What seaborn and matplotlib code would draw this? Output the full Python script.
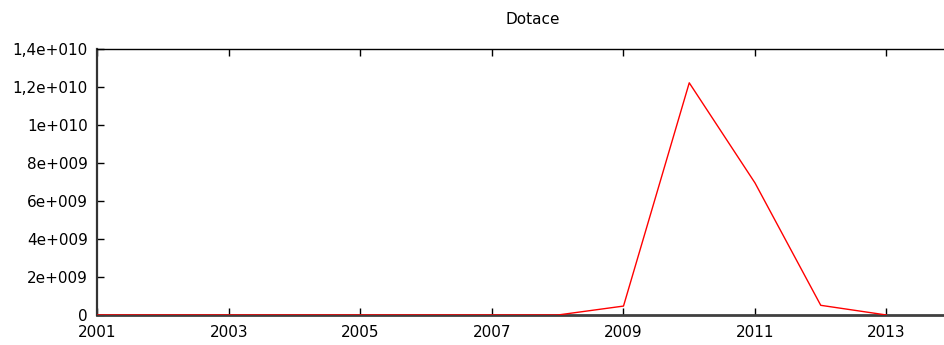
import matplotlib
matplotlib.use("Agg")
import matplotlib.pyplot as plt
import seaborn as sns
import pandas as pd

years = [2001, 2002, 2003, 2004, 2005, 2006, 2007, 2008, 2009, 2010, 2011, 2012, 2013]
dotace = [0, 0, 0, 0, 0, 0, 0, 0, 0.47e9, 12.22e9, 6.95e9, 0.51e9, 0]
xticks = [2001, 2003, 2005, 2007, 2009, 2011, 2013]
yticks = [0, 2e9, 4e9, 6e9, 8e9, 1e10, 1.2e10, 1.4e10]
ytick_labels = ["0", "2e+009", "4e+009", "6e+009", "8e+009", "1e+010", "1,2e+010", "1,4e+010"]

sns.set_style("white")
plt.rcParams['font.family'] = ['DejaVu Sans']

df = pd.DataFrame({"year": years, "value": dotace})

fig = plt.figure(figsize=(9.45, 3.45), dpi=100)
ax = fig.add_axes([97.5 / 945, 1 - 315 / 345, (945 - 97.5) / 945, (315 - 49) / 345])
sns.lineplot(data=df, x="year", y="value", color="red", linewidth=1.0, ax=ax, zorder=5)

ax.set_xlim(2001, 2001 + (945 - 97.5) / 65.75)
ax.set_ylim(0, 1.4e10)
ax.set_xticks(xticks)
ax.set_xticklabels([str(x) for x in xticks], fontsize=11, color="black")
ax.set_yticks(yticks)
ax.set_yticklabels(ytick_labels, fontsize=11, color="black")
ax.set_xlabel("")
ax.set_ylabel("")
ax.tick_params(axis="x", direction="in", length=5, width=1, top=True, bottom=True, pad=7, colors="black")
ax.tick_params(axis="y", direction="in", length=5, width=1, left=True, right=False, pad=7, colors="black")
for lbl in ax.get_xticklabels() + ax.get_yticklabels():
    lbl.set_color("black")

ax.spines["right"].set_visible(False)
ax.spines["top"].set_color("black")
ax.spines["top"].set_linewidth(1.0)
ax.spines["left"].set_color("#333333")
ax.spines["left"].set_linewidth(1.6)
ax.spines["bottom"].set_color("#404040")
ax.spines["bottom"].set_linewidth(2.0)
ax.spines["bottom"].set_zorder(1)

fig.text(533 / 945, 1 - 20 / 345, "Dotace", ha="center", va="center", fontsize=11, color="black")

fig.savefig("out.png", dpi=100)
